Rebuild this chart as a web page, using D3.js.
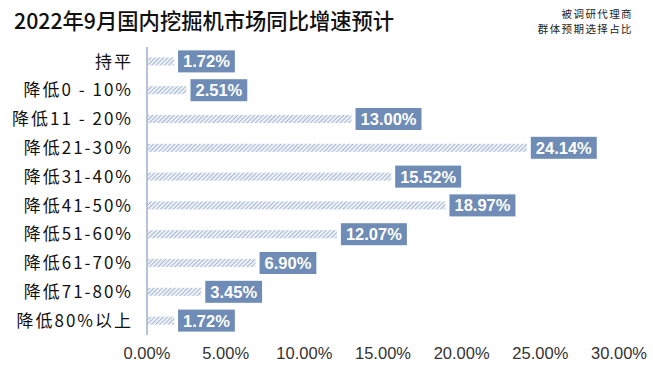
<!DOCTYPE html>
<html lang="zh">
<head>
<meta charset="utf-8">
<script src="https://d3js.org/d3.v7.min.js"></script>
<style>
  body { margin: 0; background: #fff; }
  svg { display: block; }
</style>
</head>
<body>
<div id="chart"></div>
<script>
// data
const categories = ["持平", "降低0 - 10%", "降低11 - 20%", "降低21-30%", "降低31-40%",
  "降低41-50%", "降低51-60%", "降低61-70%", "降低71-80%", "降低80%以上"];
const shares = [1.72, 2.51, 13.00, 24.14, 15.52, 18.97, 12.07, 6.90, 3.45, 1.72];
const tickValues = [0, 5, 10, 15, 20, 25, 30];
const noteLines = ["被调研代理商", "群体预期选择占比"];

const width = 653, height = 379;
const margin = {top: 47, right: 34, bottom: 44, left: 147};

const svg = d3.select("#chart").append("svg")
    .attr("width", width).attr("height", height);

// hatch pattern for the bars
const defs = svg.append("defs");
const pat = defs.append("pattern")
    .attr("id", "hatch")
    .attr("patternUnits", "userSpaceOnUse")
    .attr("width", 3).attr("height", 3)
    .attr("patternTransform", "rotate(45)");
pat.append("rect").attr("width", 3).attr("height", 3).attr("fill", "#eef2f8");
pat.append("line").attr("x1", 0).attr("y1", 0).attr("x2", 0).attr("y2", 3)
    .attr("stroke", "#7f98bd").attr("stroke-width", 1.3);

const x = d3.scaleLinear().domain([0, 30]).range([margin.left, width - margin.right]);
const y = d3.scaleBand().domain(categories)
    .range([margin.top, height - margin.bottom]).paddingInner(0.72).paddingOuter(0.36);

// title
svg.append("text")
    .attr("x", 14).attr("y", 29)
    .attr("font-family", "Noto Sans CJK SC")
    .attr("font-size", 21.3).attr("font-weight", 500)
    .attr("fill", "#111")
    .text("2022年9月国内挖掘机市场同比增速预计");

// note, top right
svg.append("g")
  .selectAll("text")
  .data(noteLines)
  .join("text")
    .attr("x", 633)
    .attr("y", (d, i) => 18 + i * 15)
    .attr("text-anchor", "end")
    .attr("font-family", "Noto Sans CJK SC")
    .attr("font-size", 10.5).attr("letter-spacing", 1.4)
    .attr("fill", "#222")
    .text(d => d);

// category labels
svg.append("g")
  .selectAll("text")
  .data(categories)
  .join("text")
    .attr("x", 133)
    .attr("y", d => y(d) + y.bandwidth() / 2)
    .attr("dy", "0.36em")
    .attr("text-anchor", "end")
    .attr("font-family", "Noto Sans CJK SC")
    .attr("font-size", 17).attr("letter-spacing", 2)
    .attr("fill", "#111")
    .text(d => d);

// axis line
svg.append("line")
    .attr("x1", x(0)).attr("x2", x(0))
    .attr("y1", margin.top).attr("y2", height - margin.bottom)
    .attr("stroke", "#6a88b3").attr("stroke-width", 1);

// bars
const rows = categories.map((c, i) => ({c, v: shares[i]}));
svg.append("g")
  .selectAll("rect")
  .data(rows)
  .join("rect")
    .attr("x", x(0) + 1)
    .attr("y", d => y(d.c))
    .attr("width", d => x(d.v) - x(0) - 1)
    .attr("height", y.bandwidth())
    .attr("fill", "url(#hatch)");

// value labels
const lab = svg.append("g")
  .selectAll("g")
  .data(rows)
  .join("g")
    .attr("transform", d => `translate(${x(d.v) + 4},${y(d.c) + y.bandwidth() / 2})`);
lab.append("text")
    .attr("x", 5)
    .attr("dy", "0.36em")
    .attr("font-family", "Liberation Sans, Arial, sans-serif")
    .attr("font-size", 16.5).attr("font-weight", "bold")
    .attr("fill", "#fff")
    .text(d => d.v.toFixed(2) + "%");
lab.each(function() {
  const g = d3.select(this);
  const w = g.select("text").node().getComputedTextLength();
  g.insert("rect", "text")
    .attr("x", 0).attr("y", -11)
    .attr("width", w + 10).attr("height", 22)
    .attr("fill", "#6e8cb5");
});

// x tick labels
svg.append("g")
  .selectAll("text")
  .data(tickValues)
  .join("text")
    .attr("x", d => x(d))
    .attr("y", 359)
    .attr("text-anchor", "middle")
    .attr("font-family", "Liberation Sans, Arial, sans-serif")
    .attr("font-size", 16.5)
    .attr("fill", "#333")
    .text(d => d.toFixed(2) + "%");
</script>
</body>
</html>
